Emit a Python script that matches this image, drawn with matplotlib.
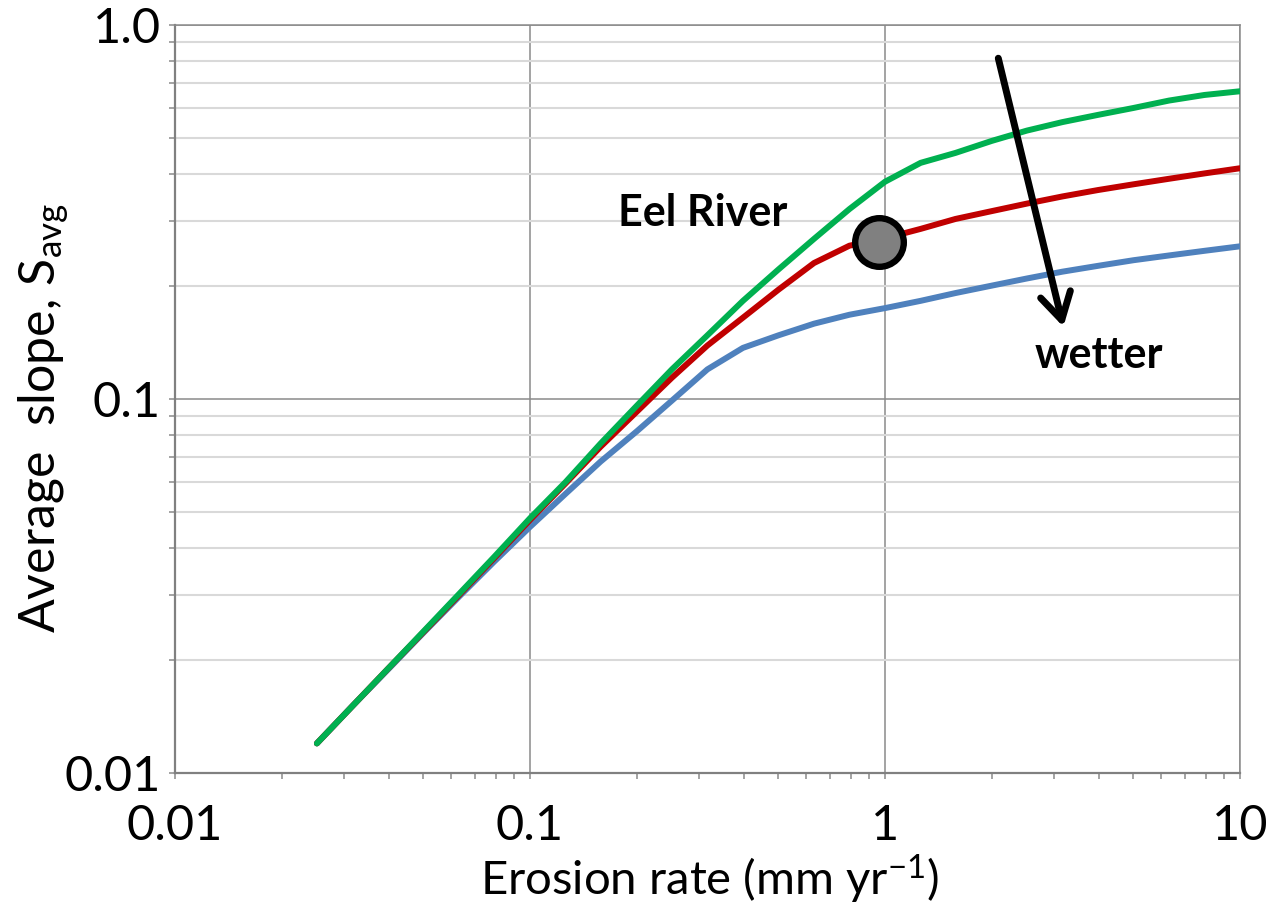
import matplotlib
matplotlib.use("Agg")
import matplotlib.pyplot as plt
from matplotlib.ticker import FixedLocator, LogLocator, NullFormatter

plt.rcParams['font.family'] = ['Lato', 'DejaVu Sans']
plt.rcParams['mathtext.default'] = 'regular'

# Erosion rate (mm/yr) and modelled average hillslope gradient for three climates
erosion = [0.0251, 0.0316, 0.0398, 0.0501, 0.0631, 0.0794, 0.1, 0.126, 0.158,
           0.2, 0.251, 0.316, 0.398, 0.501, 0.631, 0.794, 1.0, 1.26, 1.58,
           2.0, 2.51, 3.16, 3.98, 5.01, 6.31, 7.94, 10.0]
slope_dry = [0.0120, 0.0151, 0.0190, 0.0239, 0.0301, 0.0379, 0.0480, 0.0600,
             0.0760, 0.0960, 0.120, 0.148, 0.183, 0.222, 0.268, 0.322, 0.381,
             0.428, 0.455, 0.490, 0.522, 0.550, 0.575, 0.600, 0.628, 0.650, 0.665]
slope_mid = [0.0120, 0.0151, 0.0190, 0.0238, 0.0299, 0.0376, 0.0475, 0.0595,
             0.0745, 0.0925, 0.114, 0.139, 0.165, 0.196, 0.231, 0.257, 0.269,
             0.285, 0.303, 0.318, 0.333, 0.348, 0.362, 0.375, 0.388, 0.401, 0.414]
slope_wet = [0.0120, 0.0151, 0.0189, 0.0237, 0.0296, 0.0368, 0.0455, 0.0558,
             0.0680, 0.0820, 0.0990, 0.120, 0.137, 0.148, 0.159, 0.168, 0.175,
             0.183, 0.192, 0.201, 0.210, 0.219, 0.227, 0.235, 0.242, 0.249, 0.256]

eel_erosion = [0.96]
eel_slope = [0.263]

x_ticks = [0.01, 0.1, 1, 10]
x_ticklabels = ["0.01", "0.1", "1", "10"]
y_ticks = [0.01, 0.1, 1.0]
y_ticklabels = ["0.01", "0.1", "1.0"]

fig = plt.figure(figsize=(12.84, 9.07), dpi=100)
ax = fig.add_axes([175 / 1284, 1 - 773 / 907, 1065 / 1284, 748 / 907])
ax.set_xscale('log')
ax.set_yscale('log')
ax.set_xlim(0.01, 10)
ax.set_ylim(0.01, 1.0)

# grid: major lines both ways, minor horizontal only
ax.grid(True, which='major', axis='both', color='#8a8a8a', lw=1.1, zorder=0)
ax.yaxis.set_minor_locator(LogLocator(base=10, subs=range(2, 10)))
ax.xaxis.set_minor_locator(LogLocator(base=10, subs=range(2, 10)))
ax.grid(True, which='minor', axis='y', color='#d9d9d9', lw=1.5, zorder=0)
ax.set_axisbelow(True)

lw = 4.3
ax.plot(erosion, slope_wet, color='#4F81BD', lw=lw, solid_capstyle='round', zorder=3)
ax.plot(erosion, slope_mid, color='#C00000', lw=lw, solid_capstyle='round', zorder=4)
ax.plot(erosion, slope_dry, color='#00B050', lw=lw, solid_capstyle='round', zorder=5)

ax.plot(eel_erosion, eel_slope, 'o', ms=35, mfc='#808080', mec='black', mew=4.6, zorder=6)

ax.xaxis.set_major_locator(FixedLocator(x_ticks))
ax.set_xticklabels(x_ticklabels)
ax.yaxis.set_major_locator(FixedLocator(y_ticks))
ax.set_yticklabels(y_ticklabels)
ax.xaxis.set_minor_formatter(NullFormatter())
ax.yaxis.set_minor_formatter(NullFormatter())

ax.tick_params(which='both', direction='out', color='#8a8a8a', width=1.1, length=4)
ax.tick_params(axis='x', which='major', labelsize=35, pad=18)
ax.tick_params(axis='y', which='major', labelsize=35, pad=6)

for side in ['left', 'bottom']:
    ax.spines[side].set_color('#808080')
    ax.spines[side].set_linewidth(1.6)
for side in ['top', 'right']:
    ax.spines[side].set_color('#8a8a8a')
    ax.spines[side].set_linewidth(1.1)

ax.set_xlabel("Erosion rate (mm yr$^{-1}$)", fontsize=34)
ax.xaxis.set_label_coords(0.502, -0.106)
ax.set_ylabel("Average  slope, S$_{avg}$", fontsize=36)
ax.yaxis.set_label_coords(-0.099, 0.475)

ax.text(0.307, 0.290, "Eel River", fontsize=31, fontweight='bold',
        ha='center', va='baseline', zorder=7)
ax.text(4.0, 0.121, "wetter", fontsize=31, fontweight='bold',
        ha='center', va='baseline', zorder=7)

ax.annotate("", xy=(3.18, 0.156), xytext=(2.085, 0.815),
            arrowprops=dict(arrowstyle='->, head_length=1.9, head_width=1.1',
                            lw=5.0, color='black', mutation_scale=10,
                            shrinkA=0, shrinkB=0),
            zorder=8)

fig.savefig("out.png", dpi=100, facecolor='white')
